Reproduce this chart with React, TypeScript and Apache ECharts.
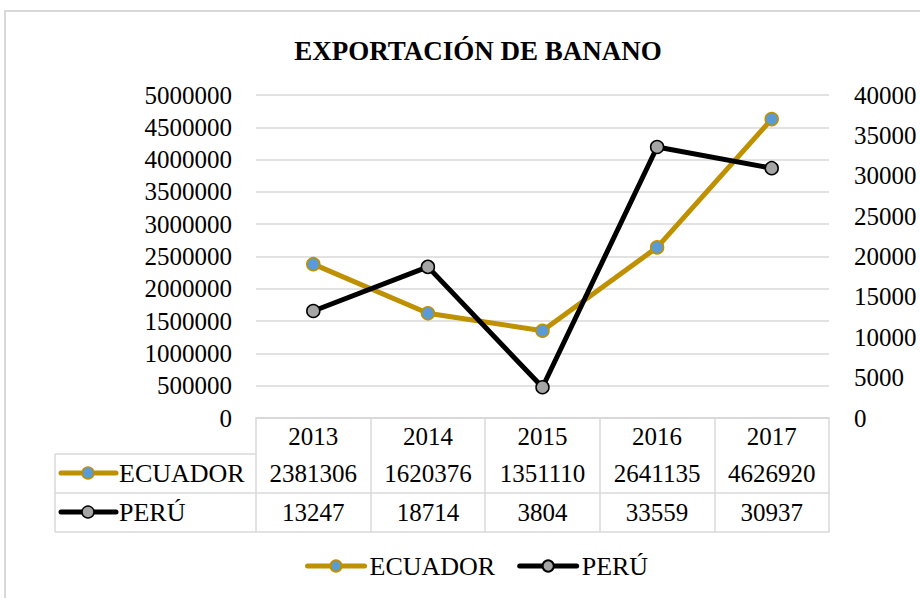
import React, { useEffect, useRef } from "react";
import * as echarts from "echarts";

const years = ["2013", "2014", "2015", "2016", "2017"];
const ecuador = [2381306, 1620376, 1351110, 2641135, 4626920];
const peru = [13247, 18714, 3804, 33559, 30937];
const seriesNames = ["ECUADOR", "PERÚ"];
const chartTitle = "EXPORTACIÓN DE BANANO";

export default function App() {
  const ref = useRef<HTMLDivElement>(null);
  useEffect(() => {
    const chart = echarts.init(ref.current!, null, { renderer: "svg" });
    const font = "'Liberation Serif', 'Times New Roman', serif";
    const fs = 25;
    const fsName = 26;
    const grey = "#d9d9d9";
    const gold = "#bf9000";
    const lbl = { fontSize: fs, fontFamily: font, color: "#000" };
    const plain = (v: number) => String(v);

    const rowLines: any[] = [454, 493, 532].map((y) => ({
      type: "line",
      shape: { x1: 55, y1: y, x2: 256, y2: y },
      style: { stroke: grey, lineWidth: 1.5 },
    }));

    const key = (y: number, color: string, fill: string, name: string) => [
      { type: "line", shape: { x1: 61, y1: y, x2: 116, y2: y }, style: { stroke: color, lineWidth: 5, lineCap: "round" } },
      { type: "circle", shape: { cx: 88, cy: y, r: 6 }, style: { fill, stroke: color, lineWidth: 1.5 } },
      { type: "text", x: 119, y, style: { text: name, fontSize: fsName, fontFamily: font, fill: "#000", verticalAlign: "middle" } },
    ];

    chart.setOption({
      animation: false,
      backgroundColor: "#fff",
      title: {
        text: chartTitle,
        left: 473,
        top: 32,
        textAlign: "center",
        textStyle: { fontSize: 27, fontFamily: font, fontWeight: "bold", color: "#000" },
      },
      legend: {
        top: 548,
        left: 300,
        itemWidth: 57,
        itemHeight: 14,
        itemGap: 22,
        textStyle: { fontSize: fsName, fontFamily: font, color: "#000" },
        lineStyle: { width: 5, cap: "round" },
        data: seriesNames,
      },
      grid: { left: 256, right: 91, top: 95, bottom: 180 },
      xAxis: [
        {
          type: "category",
          data: years,
          boundaryGap: true,
          axisLine: { lineStyle: { color: grey, width: 1.5 } },
          axisTick: { show: true, length: 114, interval: 0, lineStyle: { color: grey, width: 1.5 } },
          axisLabel: { ...lbl, margin: 6, interval: 0 },
        },
        {
          type: "category",
          data: ecuador.map(String),
          position: "bottom",
          offset: 36,
          axisLine: { lineStyle: { color: grey, width: 1.5 } },
          axisTick: { show: false },
          axisLabel: { ...lbl, margin: 7, interval: 0 },
        },
        {
          type: "category",
          data: peru.map(String),
          position: "bottom",
          offset: 75,
          axisLine: { lineStyle: { color: grey, width: 1.5 } },
          axisTick: { show: false },
          axisLabel: { ...lbl, margin: 7, interval: 0 },
        },
        {
          type: "category",
          data: years,
          position: "bottom",
          offset: 114,
          axisLine: { lineStyle: { color: grey, width: 1.5 } },
          axisTick: { show: false },
          axisLabel: { show: false },
        },
      ],
      yAxis: [
        {
          type: "value",
          min: 0,
          max: 5000000,
          interval: 500000,
          axisLine: { show: false },
          axisTick: { show: false },
          splitLine: { lineStyle: { color: grey, width: 1.5 } },
          axisLabel: { ...lbl, margin: 24, formatter: plain },
        },
        {
          type: "value",
          min: 0,
          max: 40000,
          interval: 5000,
          position: "right",
          axisLine: { show: false },
          axisTick: { show: false },
          splitLine: { show: false },
          axisLabel: { ...lbl, margin: 25, formatter: plain },
        },
      ],
      series: [
        {
          name: seriesNames[0],
          type: "line",
          data: ecuador,
          xAxisIndex: 0,
          yAxisIndex: 0,
          symbol: "circle",
          symbolSize: 13,
          lineStyle: { color: gold, width: 5 },
          itemStyle: { color: "#5b9bd5", borderColor: gold, borderWidth: 1.5 },
        },
        {
          name: seriesNames[1],
          type: "line",
          data: peru,
          xAxisIndex: 0,
          yAxisIndex: 1,
          symbol: "circle",
          symbolSize: 13,
          lineStyle: { color: "#000", width: 5 },
          itemStyle: { color: "#a5a5a5", borderColor: "#000", borderWidth: 1.5 },
          z: 3,
        },
      ],
      graphic: [
        {
          type: "rect",
          shape: { x: 5, y: 11, width: 1000, height: 700 },
          style: { fill: "none", stroke: grey, lineWidth: 2 },
          z: -10,
        },
        ...rowLines,
        { type: "line", shape: { x1: 55, y1: 454, x2: 55, y2: 532 }, style: { stroke: grey, lineWidth: 1.5 } },
        ...key(473, gold, "#5b9bd5", seriesNames[0]),
        ...key(512, "#000", "#a5a5a5", seriesNames[1]),
      ],
    });
    return () => chart.dispose();
  }, []);
  return <div ref={ref} style={{ position: "fixed", left: 0, top: 0, width: 920, height: 598 }} />;
}
